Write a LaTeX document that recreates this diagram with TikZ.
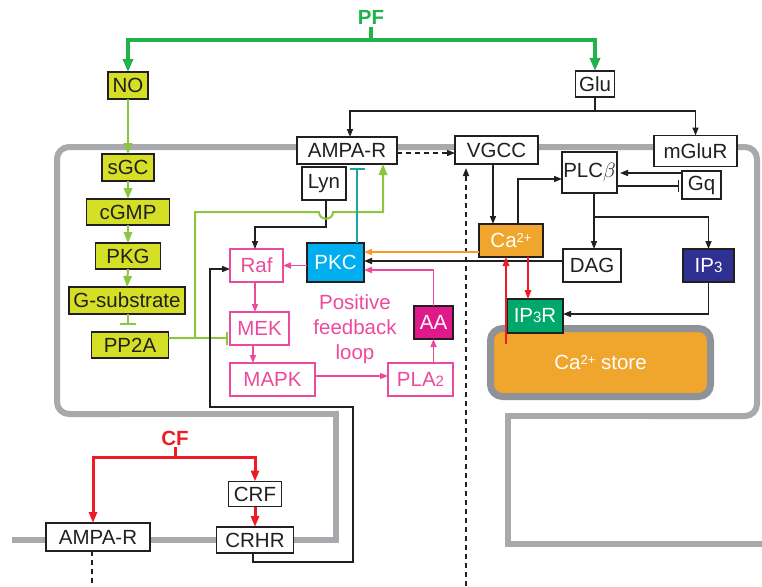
\documentclass[tikz,border=0pt]{standalone}
\usepackage{fontspec}
\setmainfont{Liberation Sans}
\usetikzlibrary{arrows.meta}
\definecolor{dk}{HTML}{231F20}
\definecolor{yg}{HTML}{D5DF26}
\definecolor{lg}{HTML}{8CC63F}
\definecolor{pfg}{HTML}{22B24C}
\definecolor{cfr}{HTML}{ED1C24}
\definecolor{pk}{HTML}{EC4A9C}
\definecolor{aafill}{HTML}{E0198A}
\definecolor{pkcfill}{HTML}{00AEEF}
\definecolor{caor}{HTML}{F0A52C}
\definecolor{ipblue}{HTML}{2E3192}
\definecolor{ipgreen}{HTML}{00A86B}
\definecolor{memg}{HTML}{A7A9AC}
\definecolor{storeg}{HTML}{8D9399}
\definecolor{tealc}{HTML}{1AA6A8}
\definecolor{orl}{HTML}{F39A2B}
\newcommand\mysub[1]{{\fontsize{15}{15}\selectfont #1}}
\newcommand\mysup[1]{\raisebox{5pt}{\fontsize{13}{13}\selectfont #1}}
\tikzset{
  lbl/.style={font=\fontsize{20.5}{24}\selectfont, inner sep=0pt, outer sep=0pt},
  sz/.style 2 args={minimum width=#1pt, minimum height=#2pt},
  bx/.style={lbl, draw=dk, line width=1.6pt, fill=white, text=dk},
  yb/.style={bx, fill=yg},
  pb/.style={lbl, draw=pk, line width=1.5pt, fill=white, text=pk},
  cb/.style={bx, text=white},
  mem/.style={draw=memg, line width=6pt},
  con/.style={draw=dk, line width=1.5pt},
  arr/.style={con, -{Triangle[length=8pt,width=6pt]}},
  darr/.style={arr, dash pattern=on 5pt off 4pt},
  parr/.style={draw=pk, line width=1.5pt, -{Triangle[length=8pt,width=6pt]}},
  oarr/.style={draw=orl, line width=1.5pt, -{Triangle[length=8pt,width=6pt]}},
  rarr/.style={draw=cfr, line width=1.6pt, -{Triangle[length=9pt,width=6.5pt]}},
  gline/.style={draw=lg, line width=2pt},
  garr/.style={-{Triangle[length=11pt,width=8.5pt]}},
  pfline/.style={draw=pfg, line width=3.2pt},
  pfarr/.style={-{Triangle[length=13pt,width=10pt]}},
  cline/.style={draw=cfr, line width=3pt},
  carr/.style={-{Triangle[length=11pt,width=8pt]}},
  tline/.style={draw=tealc, line width=2pt},
}
\begin{document}
\begin{tikzpicture}[x=1pt,y=-1pt]
\useasboundingbox (0,0) rectangle (762,586);
% membranes
\draw[mem] (12,540) -- (336,540) -- (336,414) -- (120,414);
\draw[mem, rounded corners=12pt] (120,414) -- (57,414) -- (57,147) -- (757,147) -- (757,416) -- (650,416);
\draw[mem] (650,416) -- (508,416) -- (508,544) -- (762,544);
% Ca store
\node[draw=storeg, line width=7pt, fill=caor, rounded corners=12pt, sz={220}{68}, lbl, text=white] (store) at (600.5,362.5) {Ca\mysup{2+} store};
% nodes
\node[lbl, font=\bfseries\fontsize{20.5}{24}\selectfont, text=pfg] (PF) at (371,17) {PF};
\node[lbl, font=\bfseries\fontsize{20.5}{24}\selectfont, text=cfr] (CF) at (175,438) {CF};
\node[lbl, text=pk, align=center, font=\fontsize{20.5}{25}\selectfont] (PFL) at (355,329) {Positive\\feedback\\loop};
\node[yb, sz={40}{27}] (NO) at (128,85.5) {NO};
\node[bx, sz={39}{26}] (Glu) at (595,84) {Glu};
\node[bx, sz={100}{27}] (AMPAt) at (347,150.5) {AMPA-R};
\node[bx, sz={83}{28}] (VGCC) at (496.5,150) {VGCC};
\node[bx, sz={83}{31}] (mGluR) at (695.5,151) {mGluR};
\node[bx, sz={44}{33}] (Lyn) at (324,183.5) {Lyn};
\node[bx, sz={55}{41}] (PLC) at (589.5,172.5) {PLC$\beta$};
\node[bx, sz={39}{28}] (Gq) at (701.5,185) {Gq};
\node[yb, sz={52}{27}] (sGC) at (128,167.5) {sGC};
\node[yb, sz={83}{26}] (cGMP) at (128,212) {cGMP};
\node[yb, sz={65}{26}] (PKG) at (128,256) {PKG};
\node[yb, sz={116}{27}] (Gsub) at (127,300.5) {G-substrate};
\node[yb, sz={77}{26}] (PP2A) at (130,345) {PP2A};
\node[pb, sz={53}{33}] (Raf) at (256.5,265.5) {Raf};
\node[cb, fill=pkcfill, sz={57}{39}] (PKC) at (335.5,262.5) {PKC};
\node[pb, sz={59}{33}] (MEK) at (259.5,328.5) {MEK};
\node[pb, sz={85}{33}] (MAPK) at (272.5,379.5) {MAPK};
\node[pb, sz={65}{33}] (PLA) at (420.5,379.5) {PLA\mysub{2}};
\node[cb, fill=aafill, sz={39}{33}] (AA) at (433.5,322.5) {AA};
\node[cb, fill=caor, sz={64}{33}] (Ca) at (511,240.5) {Ca\mysup{2+}};
\node[bx, sz={58}{33}] (DAG) at (592,265.5) {DAG};
\node[cb, fill=ipblue, sz={51}{33}] (IP3) at (708.5,265.5) {IP\mysub{3}};
\node[cb, fill=ipgreen, sz={56}{34}] (IP3R) at (535,316) {IP\mysub{3}R};
\node[bx, sz={104}{28}] (AMPAb) at (98,537) {AMPA-R};
\node[bx, sz={53}{25}] (CRF) at (255,494) {CRF};
\node[bx, sz={77}{26}] (CRHR) at (255,540) {CRHR};
% PF connectors
\coordinate (pfj) at (371,40);
\draw[pfline] ([yshift=-3pt]PF.south) -- (pfj);
\draw[pfline, pfarr] (pfj) -| (NO.north);
\draw[pfline, pfarr] (pfj) -| (Glu.north);
% NO chain
\draw[gline, garr] (NO.south) -- (sGC.north);
\draw[gline, garr] (sGC.south) -- (cGMP.north);
\draw[gline, garr] (cGMP.south) -- (PKG.north);
\draw[gline, garr] (PKG.south) -- (Gsub.north);
\coordinate (gsx) at (128,0);
\draw[gline, -{Bar[width=16pt]}, shorten >=7pt] (Gsub.south -| gsx) -- (PP2A.north -| gsx);
% Glu
\coordinate (gj) at (595,111);
\coordinate (ax) at (350,0);
\draw[con] (Glu.south) -- (gj);
\draw[arr] (gj) -| (AMPAt.north -| ax);
\draw[arr] (gj) -| (mGluR.north);
% dashed
\coordinate (dy) at (0,153);
\draw[darr] (AMPAt.east |- dy) -- (VGCC.west |- dy);
\coordinate (dbot) at (466,586);
\coordinate (dtop) at (466,168);
\draw[darr] (dbot) -- (dtop);
% Lyn
\coordinate (lj) at (326,227);
\coordinate (rfx) at (255,0);
\draw[arr] (Lyn.south -| lj) -- (lj) -| (Raf.north -| rfx);
% green from PP2A
\coordinate (ppj) at (195,338);
\coordinate (gt) at (195,212);
\coordinate (gup) at (383,212);
\draw[gline, garr] (PP2A.east |- ppj) -- (ppj) -- (gt) -- (319,212) .. controls (319,221) and (333,221) .. (333,212) -- (gup) -- (gup |- AMPAt.south);
\draw[gline, -{Bar[width=13pt]}, shorten >=2pt] (ppj) -- (ppj -| MEK.west);
% teal
\coordinate (tx) at (357,0);
\draw[tline, -{Bar[width=15pt]}, shorten >=4pt] (PKC.north -| tx) -- (AMPAt.south -| tx);
% pink loop
\draw[parr] (PKC.west |- Raf.east) -- (Raf.east);
\draw[parr] (Raf.south -| rfx) -- (MEK.north -| rfx);
\coordinate (mx) at (253,0);
\draw[parr] (MEK.south -| mx) -- (MAPK.north -| mx);
\coordinate (my) at (0,376);
\draw[parr] (MAPK.east |- my) -- (PLA.west |- my);
\draw[parr] (PLA.north -| AA.south) -- (AA.south);
\coordinate (py) at (0,270);
\draw[parr] (AA.north) |- (PKC.east |- py);
% Ca / DAG to PKC
\coordinate (oy) at (0,252);
\draw[oarr] (Ca.west |- oy) -- (PKC.east |- oy);
\coordinate (ky) at (0,261);
\draw[arr] (DAG.west |- ky) -- (PKC.east |- ky);
% VGCC -> Ca
\coordinate (vx) at (493,0);
\draw[arr] (VGCC.south -| vx) -- (Ca.north -| vx);
% Ca -> PLC
\coordinate (cx) at (518,0);
\coordinate (cy) at (0,179);
\draw[arr] (Ca.north -| cx) |- (PLC.west |- cy);
% Gq / PLC
\coordinate (qy1) at (0,173);
\draw[arr, shorten >=3pt] (Gq.west |- qy1) -- (PLC.east |- qy1);
\coordinate (qy2) at (0,186);
\draw[con, -{Bar[width=12pt]}, shorten >=3pt] (PLC.east |- qy2) -- (Gq.west |- qy2);
% PLC -> DAG, IP3
\coordinate (pj) at (594,217);
\draw[con] (PLC.south -| pj) -- (pj);
\draw[arr] (pj) -- (DAG.north -| pj);
\draw[arr] (pj) -| (IP3.north);
% IP3 -> IP3R
\coordinate (iy) at (0,314);
\draw[arr] (IP3.south) |- (IP3R.east |- iy);
% red
\coordinate (r1) at (528,0);
\draw[rarr] (Ca.south -| r1) -- (IP3R.north -| r1);
\coordinate (rs) at (506,344);
\draw[rarr] (rs) -- (rs |- Ca.south);
% CRHR -> Raf
\coordinate (c1) at (253,562);
\coordinate (c2) at (353,562);
\coordinate (c3) at (353,407);
\coordinate (c4) at (210,407);
\coordinate (c5) at (210,269);
\draw[arr] (CRHR.south -| c1) -- (c1) -- (c2) -- (c3) -- (c4) -- (c5) -- (Raf.west |- c5);
% CF
\coordinate (cfj) at (175,457);
\coordinate (cfl) at (93,457);
\draw[cline] ([yshift=-2pt]CF.south) -- (cfj);
\draw[cline, carr] (cfj) -- (cfl) -- (cfl |- AMPAb.north);
\draw[cline, carr] (cfj) -| (CRF.north);
\draw[cline, carr] (CRF.south) -- (CRHR.north);
\coordinate (abot) at (92,586);
\draw[con, dash pattern=on 5pt off 4pt] (AMPAb.south -| abot) -- (abot);
\end{tikzpicture}
\end{document}
